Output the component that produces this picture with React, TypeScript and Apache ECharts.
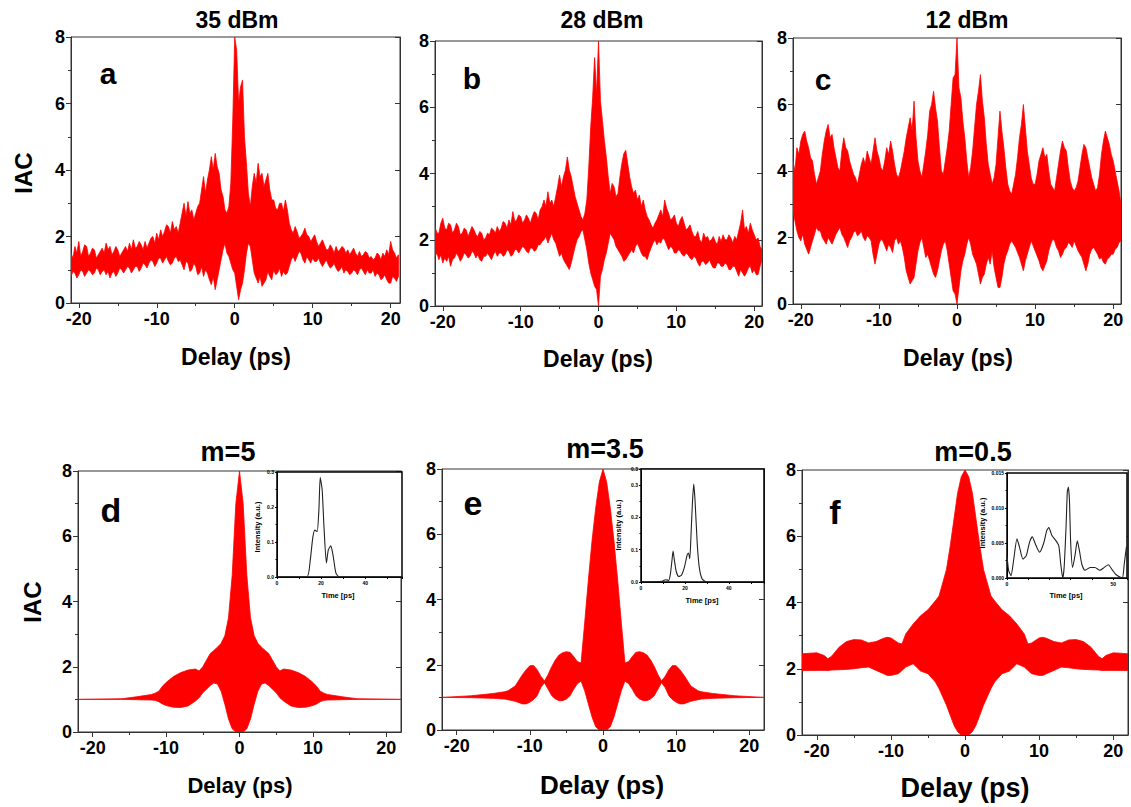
import React, { useEffect, useRef } from "react";
import * as echarts from "echarts";

// ---------- Data: measured IAC traces (envelopes of the fringe-resolved traces) ----------
const delayTop = [
  -21, -20.75, -20.5, -20.25, -20, -19.75, -19.5, -19.25, -19, -18.75,
  -18.5, -18.25, -18, -17.75, -17.5, -17.25, -17, -16.75, -16.5, -16.25,
  -16, -15.75, -15.5, -15.25, -15, -14.75, -14.5, -14.25, -14, -13.75,
  -13.5, -13.25, -13, -12.75, -12.5, -12.25, -12, -11.75, -11.5, -11.25,
  -11, -10.75, -10.5, -10.25, -10, -9.75, -9.5, -9.25, -9, -8.75,
  -8.5, -8.25, -8, -7.75, -7.5, -7.25, -7, -6.75, -6.5, -6.25,
  -6, -5.75, -5.5, -5.25, -5, -4.75, -4.5, -4.25, -4, -3.75,
  -3.5, -3.25, -3, -2.75, -2.5, -2.25, -2, -1.75, -1.5, -1.25,
  -1, -0.75, -0.5, -0.25, 0, 0.25, 0.5, 0.75, 1, 1.25,
  1.5, 1.75, 2, 2.25, 2.5, 2.75, 3, 3.25, 3.5, 3.75,
  4, 4.25, 4.5, 4.75, 5, 5.25, 5.5, 5.75, 6, 6.25,
  6.5, 6.75, 7, 7.25, 7.5, 7.75, 8, 8.25, 8.5, 8.75,
  9, 9.25, 9.5, 9.75, 10, 10.25, 10.5, 10.75, 11, 11.25,
  11.5, 11.75, 12, 12.25, 12.5, 12.75, 13, 13.25, 13.5, 13.75,
  14, 14.25, 14.5, 14.75, 15, 15.25, 15.5, 15.75, 16, 16.25,
  16.5, 16.75, 17, 17.25, 17.5, 17.75, 18, 18.25, 18.5, 18.75,
  19, 19.25, 19.5, 19.75, 20, 20.25, 20.5, 20.75, 21,
];

// (a) 35 dBm
const upperA = [
  1.5, 1.35, 1.7, 1.5, 1.85, 1.4, 1.55, 1.75, 1.7, 1.4,
  1.5, 1.65, 1.6, 1.35, 1.45, 1.55, 1.65, 1.5, 1.8, 1.6,
  1.7, 1.45, 1.55, 1.7, 1.6, 1.4, 1.5, 1.6, 1.7, 1.55,
  1.8, 1.6, 1.9, 1.65, 1.7, 1.85, 1.75, 1.6, 1.85, 1.65,
  1.8, 1.95, 2.0, 1.8, 2.1, 1.9, 2.2, 2.0, 2.15, 2.35,
  2.3, 2.1, 2.45, 2.2, 2.3, 2.1, 2.4, 2.7, 3.0, 2.6,
  3.05, 2.7, 2.8, 2.5, 2.7, 2.9, 3.0, 3.4, 3.8, 3.3,
  3.7, 4.0, 4.4, 4.0, 4.5, 4.1, 3.9, 3.4, 3.2, 2.8,
  2.7, 2.9, 3.6, 5.5, 8.0, 7.6, 6.0, 6.5, 6.7, 5.0,
  4.2, 3.3, 2.9, 3.5, 3.9, 3.6, 4.2, 3.8, 3.9, 3.5,
  3.7, 3.9, 3.4, 3.1, 3.1, 2.85, 2.8, 3.0, 3.0, 2.75,
  3.1, 2.8, 2.4, 2.2, 2.1, 2.3, 2.15, 1.95, 2.0, 2.1,
  2.25, 2.05, 2.0, 1.85, 1.95, 2.05, 1.85, 1.7, 1.8, 1.9,
  1.75, 1.6, 1.6, 1.75, 1.65, 1.5, 1.7, 1.55, 1.6, 1.7,
  1.65, 1.5, 1.6, 1.45, 1.55, 1.65, 1.5, 1.4, 1.55, 1.4,
  1.45, 1.55, 1.5, 1.35, 1.4, 1.3, 1.35, 1.5, 1.45, 1.3,
  1.5, 1.4, 1.6, 1.45, 1.85, 1.6, 1.5, 1.35, 1.45,
];
const lowerA = [
  0.8, 0.95, 0.9, 0.75, 0.85, 1.0, 0.95, 0.8, 0.9, 1.0,
  0.95, 0.85, 0.9, 1.05, 1.0, 0.85, 0.95, 1.0, 0.85, 0.95,
  0.75, 0.9, 0.95, 0.8, 0.9, 1.05, 1.0, 0.9, 1.0, 1.1,
  1.05, 0.9, 1.0, 1.1, 1.1, 0.95, 1.05, 1.2, 1.15, 1.05,
  1.2, 1.3, 1.25, 1.1, 1.2, 1.35, 1.35, 1.2, 1.3, 1.4,
  1.25, 1.15, 1.2, 1.35, 1.4, 1.25, 1.3, 1.15, 1.0, 1.25,
  1.2, 0.95, 1.0, 1.2, 1.1, 0.85, 0.9, 1.1, 0.8, 1.0,
  0.9, 0.7, 0.55, 0.8, 0.4, 0.7, 1.0, 1.3, 1.6, 1.8,
  1.5, 1.4, 1.2, 1.0, 0.9, 0.5, 0.1, 0.4, 0.6, 1.0,
  1.5, 1.8, 1.7, 1.3, 0.9, 0.75, 0.6, 0.8, 0.5, 0.6,
  0.7, 0.95, 0.8, 0.7, 1.0, 0.85, 0.9, 1.05, 0.8, 0.95,
  0.85, 0.9, 1.1, 1.3, 1.4, 1.25, 1.4, 1.55, 1.5, 1.3,
  1.2, 1.4, 1.3, 1.2, 1.35, 1.25, 1.25, 1.35, 1.2, 1.1,
  1.2, 1.3, 1.15, 1.05, 1.1, 1.2, 1.05, 0.95, 1.0, 1.1,
  0.9, 1.0, 0.95, 0.85, 0.9, 1.0, 0.95, 0.85, 1.0, 1.05,
  0.95, 0.85, 1.0, 0.9, 0.9, 1.0, 0.8, 0.9, 0.85, 0.7,
  0.75, 0.85, 0.7, 0.6, 0.6, 0.8, 0.75, 0.65, 0.8,
];

// (b) 28 dBm
const upperB = [
  2.4, 2.2, 2.2, 2.5, 2.65, 2.35, 2.3, 2.5, 2.45, 2.2,
  2.3, 2.5, 2.4, 2.15, 2.2, 2.35, 2.3, 2.1, 2.25, 2.4,
  2.3, 2.15, 2.1, 2.25, 2.2, 2.0, 2.05, 2.2, 2.15, 2.35,
  2.3, 2.2, 2.4, 2.25, 2.35, 2.55, 2.5, 2.35, 2.6, 2.45,
  2.85, 2.55, 2.6, 2.75, 2.7, 2.5, 2.6, 2.75, 2.65, 2.5,
  2.7, 2.85, 2.8, 2.6, 2.9, 3.0, 3.2, 3.0, 3.45, 3.1,
  3.2, 3.0, 3.3, 3.6, 3.95, 3.6, 3.9, 4.1, 4.5, 4.1,
  3.9, 3.6, 3.3, 3.1, 2.9, 2.7, 2.6, 2.8, 3.2, 4.2,
  5.4, 6.3, 7.5, 6.4, 8.0, 6.2, 5.6, 5.0, 4.5, 3.9,
  3.4, 3.7, 3.6, 3.3, 3.4, 3.9, 4.3, 4.6, 4.7, 4.3,
  3.9, 3.6, 3.4, 3.5, 3.2, 3.35, 3.0, 3.2, 2.9, 2.7,
  2.6, 2.45, 2.35, 2.5, 2.6, 2.75, 2.9, 2.7, 3.2, 2.95,
  2.8, 2.6, 2.65, 2.75, 2.5, 2.4, 2.6, 2.7, 2.5, 2.3,
  2.35, 2.45, 2.25, 2.1, 2.1, 2.25, 2.0, 1.9, 2.2, 2.05,
  2.1, 1.95, 2.0, 2.1, 1.95, 1.85, 2.1, 1.95, 2.15, 2.0,
  2.0, 2.15, 2.05, 1.9, 2.1, 2.0, 2.25, 2.5, 2.9, 2.3,
  2.4, 2.2, 2.5, 2.3, 2.15, 2.0, 2.05, 1.8, 1.7,
];
const lowerB = [
  1.5, 1.6, 1.4, 1.55, 1.3, 1.45, 1.35, 1.5, 1.2, 1.4,
  1.45, 1.6, 1.5, 1.35, 1.45, 1.6, 1.55, 1.45, 1.5, 1.65,
  1.6, 1.45, 1.55, 1.4, 1.35, 1.5, 1.5, 1.6, 1.5, 1.4,
  1.55, 1.65, 1.5, 1.6, 1.6, 1.5, 1.55, 1.7, 1.65, 1.5,
  1.55, 1.7, 1.7, 1.6, 1.7, 1.8, 1.75, 1.65, 1.6, 1.75,
  1.75, 1.65, 1.7, 1.85, 1.85, 1.95, 2.0, 2.1, 1.9, 2.05,
  2.2, 2.0, 1.9, 1.7, 1.5, 1.6, 1.4, 1.3, 1.2, 1.1,
  1.3, 1.55, 1.8, 2.0, 2.1, 2.25, 2.3, 2.0, 1.7, 1.3,
  1.0, 0.8, 0.6, 0.5, 0.0, 0.9, 1.1, 1.4, 1.6, 1.9,
  2.2, 2.1, 2.0, 1.8, 1.7, 1.6, 1.5, 1.35, 1.4, 1.5,
  1.6, 1.7, 1.6, 1.8, 1.9, 1.75, 1.6, 1.5, 1.5, 1.4,
  1.6, 1.75, 1.9, 2.0, 1.85, 1.95, 1.9, 2.05, 2.0, 1.85,
  1.7, 1.8, 1.75, 1.6, 1.6, 1.7, 1.65, 1.55, 1.5, 1.6,
  1.55, 1.45, 1.4, 1.5, 1.45, 1.3, 1.2, 1.35, 1.35, 1.25,
  1.3, 1.4, 1.25, 1.15, 1.15, 1.3, 1.3, 1.2, 1.2, 1.3,
  1.25, 1.1, 1.1, 1.2, 1.2, 1.05, 0.9, 1.1, 1.0, 0.9,
  1.0, 1.15, 1.2, 1.0, 1.1, 0.95, 0.95, 1.2, 1.4,
];

// (c) 12 dBm
const upperC = [
  4.3, 4.0, 4.7, 4.5, 4.9, 5.1, 5.2, 4.9, 4.7, 4.4,
  4.3, 3.9, 3.6, 3.8, 4.0, 4.5, 4.9, 5.2, 5.4, 5.0,
  5.1, 4.7, 4.4, 4.1, 4.0, 4.6, 5.0, 4.7, 4.6, 4.3,
  4.1, 3.9, 3.8, 3.6, 3.9, 4.2, 4.4, 4.2, 4.6, 4.4,
  4.2, 4.6, 5.0, 4.6, 4.4, 4.1, 4.0, 4.3, 4.7, 4.5,
  4.9, 4.6, 4.2, 3.9, 3.8, 4.0, 4.3, 4.6, 5.0, 5.3,
  5.6, 5.2, 6.1, 5.0, 4.3, 4.0, 3.8, 4.2, 4.6, 5.1,
  5.8, 6.0, 6.4, 5.9, 5.5, 4.7, 4.0, 3.9, 4.3, 4.7,
  5.2, 6.0, 6.8, 6.9, 8.0, 6.5, 6.2, 5.5, 5.0, 4.3,
  3.8, 4.1, 4.6, 5.3, 6.0, 6.4, 6.9, 6.1, 5.6, 4.8,
  4.2, 3.9, 3.6, 3.8, 4.2, 5.0, 5.8, 5.2, 4.7, 4.1,
  3.6, 3.4, 3.3, 3.6, 3.9, 4.4, 5.0, 5.4, 6.0, 5.3,
  4.6, 4.2, 3.8, 3.6, 3.6, 3.9, 4.3, 4.5, 4.7, 4.4,
  4.5, 4.0, 3.6, 3.5, 3.4, 3.8, 4.2, 4.6, 4.9, 4.7,
  4.6, 4.1, 3.7, 3.5, 3.4, 3.5, 3.7, 4.1, 4.5, 4.8,
  4.7, 4.4, 4.1, 3.8, 3.6, 3.4, 3.5, 3.9, 4.5, 4.9,
  5.2, 5.0, 4.8, 4.5, 4.3, 4.0, 3.7, 3.4, 3.0,
];
const lowerC = [
  2.8, 2.5, 2.2, 2.0, 1.9, 2.1, 1.8, 1.65, 1.5, 1.7,
  1.9, 2.1, 2.3, 2.2, 2.2, 2.0, 1.9, 1.8, 2.0, 1.9,
  1.8, 1.95, 2.1, 2.2, 2.3, 2.1, 2.0, 1.85, 1.7, 1.9,
  2.0, 2.15, 2.2, 2.05, 2.1, 2.2, 2.0, 1.9, 2.05, 2.0,
  1.9, 1.5, 1.2, 1.5, 1.8, 1.95, 1.9, 1.75, 1.6, 1.8,
  1.7, 1.55, 1.9, 2.0, 1.8, 1.9, 1.7, 1.4, 1.0, 0.8,
  0.6, 0.7, 0.8, 1.2, 1.6, 1.85, 2.0, 1.7, 1.4, 1.5,
  1.3, 1.1, 0.9, 0.8, 1.0, 1.3, 1.6, 1.8, 1.9, 1.6,
  1.2, 0.8, 0.4, 0.3, 0.0, 0.5, 1.0, 1.3, 1.5, 1.8,
  2.0, 1.8, 1.5, 1.35, 1.2, 0.9, 0.6, 0.8, 0.9, 1.2,
  1.4, 1.2, 1.6, 1.1, 0.8, 0.5, 0.5, 0.8, 1.2, 1.45,
  1.6, 1.8, 1.9, 1.8, 1.7, 1.55, 1.4, 1.2, 1.0, 1.3,
  1.5, 1.7, 1.9, 1.75, 1.6, 1.45, 1.3, 1.1, 1.0, 1.15,
  1.3, 1.6, 1.8, 1.95, 1.9, 1.7, 1.6, 1.4, 1.5, 1.65,
  1.7, 1.85, 1.8, 1.7, 1.9, 1.75, 1.6, 1.5, 1.4, 1.2,
  1.0, 1.2, 1.5, 1.65, 1.7, 1.6, 1.5, 1.35, 1.4, 1.25,
  1.2, 1.35, 1.4, 1.5, 1.5, 1.65, 1.7, 1.85, 1.9,
];

// (d) m = 5 (simulated)
const delayD = [
  -22, -16, -14, -12, -11.5, -11, -10.5, -10, -9, -8,
  -7, -6, -5.5, -5, -4, -3.5, -3, -2.5, -2, -1.5,
  -1, -0.5, 0, 0.5, 1, 1.5, 2, 2.5, 3, 3.5,
  4, 5, 5.5, 6, 7, 8, 9, 10, 10.5, 11,
  11.5, 12, 14, 16, 22,
];
const upperD = [
  1.0, 1.02, 1.08, 1.15, 1.19, 1.25, 1.4, 1.52, 1.7, 1.82,
  1.9, 1.93, 1.87, 2.0, 2.4, 2.5, 2.6, 2.72, 2.95, 3.5,
  4.8, 7.0, 8.0, 7.0, 4.8, 3.5, 2.95, 2.72, 2.6, 2.5,
  2.4, 2.0, 1.87, 1.93, 1.9, 1.82, 1.7, 1.52, 1.4, 1.25,
  1.19, 1.15, 1.08, 1.02, 1.0,
];
const lowerD = [
  1.0, 1.0, 0.99, 0.98, 0.97, 0.93, 0.86, 0.81, 0.76, 0.75,
  0.8, 0.95, 1.05, 1.2, 1.42, 1.5, 1.47, 1.25, 0.85, 0.4,
  0.1, 0.0, 0.0, 0.0, 0.1, 0.4, 0.85, 1.25, 1.47, 1.5,
  1.42, 1.2, 1.05, 0.95, 0.8, 0.75, 0.76, 0.81, 0.86, 0.93,
  0.97, 0.98, 0.99, 1.0, 1.0,
];

// (e) m = 3.5 (simulated)
const delayE = [
  -22, -18, -15, -13.5, -13, -12, -11, -10.5, -10, -9.5,
  -9, -8.5, -8, -7.5, -7, -6.5, -6, -5.5, -5, -4.5,
  -4, -3.5, -3, -2.5, -2, -1.5, -1, -0.5, 0, 0.5,
  1, 1.5, 2, 2.5, 3, 3.5, 4, 4.5, 5, 5.5,
  6, 6.5, 7, 7.5, 8, 8.5, 9, 9.5, 10, 10.5,
  11, 12, 13, 13.5, 15, 18, 22,
];
const upperE = [
  1.0, 1.05, 1.12, 1.17, 1.2, 1.35, 1.7, 1.85, 1.97, 1.98,
  1.85, 1.65, 1.5, 1.7, 1.95, 2.15, 2.3, 2.37, 2.4, 2.38,
  2.25, 2.1, 2.05, 3.3, 4.6, 5.8, 6.8, 7.6, 8.0, 7.6,
  6.8, 5.8, 4.6, 3.3, 2.05, 2.1, 2.25, 2.38, 2.4, 2.37,
  2.3, 2.15, 1.95, 1.7, 1.5, 1.65, 1.85, 1.98, 1.97, 1.85,
  1.7, 1.35, 1.2, 1.17, 1.12, 1.05, 1.0,
];
const lowerE = [
  1.0, 0.99, 0.97, 0.95, 0.93, 0.88, 0.8, 0.8, 0.85, 0.93,
  1.05, 1.3, 1.45, 1.25, 1.05, 0.95, 0.9, 0.9, 0.95, 1.05,
  1.25, 1.42, 1.5, 1.2, 0.8, 0.4, 0.1, 0.0, 0.0, 0.0,
  0.1, 0.4, 0.8, 1.2, 1.5, 1.42, 1.25, 1.05, 0.95, 0.9,
  0.9, 0.95, 1.05, 1.25, 1.45, 1.3, 1.05, 0.93, 0.85, 0.8,
  0.8, 0.88, 0.93, 0.95, 0.97, 0.99, 1.0,
];

// (f) m = 0.5 (simulated)
const delayF = [
  -22, -21, -20, -19, -18.5, -18, -17, -16, -15, -14,
  -13, -12, -11, -10.5, -10, -9, -8.5, -8, -7, -6,
  -5, -4, -3.5, -3, -2.5, -2, -1.5, -1, -0.5, 0,
  0.5, 1, 1.5, 2, 2.5, 3, 3.5, 4, 5, 6,
  7, 8, 8.5, 9, 10, 10.5, 11, 12, 13, 14,
  15, 16, 17, 18, 18.5, 19, 20, 21, 22,
];
const upperF = [
  2.45, 2.47, 2.48, 2.4, 2.3, 2.38, 2.65, 2.82, 2.88, 2.87,
  2.78, 2.82, 2.92, 2.95, 2.93, 2.78, 2.75, 3.05, 3.35, 3.6,
  3.78, 4.05, 4.2, 4.6, 5.0, 5.7, 6.5, 7.3, 7.8, 8.0,
  7.8, 7.3, 6.5, 5.7, 5.0, 4.6, 4.2, 4.05, 3.78, 3.6,
  3.35, 3.05, 2.75, 2.78, 2.93, 2.95, 2.92, 2.82, 2.78, 2.87,
  2.88, 2.82, 2.65, 2.38, 2.3, 2.4, 2.48, 2.47, 2.45,
];
const lowerF = [
  1.95, 1.95, 1.95, 1.95, 1.95, 1.96, 1.97, 1.98, 2.0, 2.03,
  2.05, 1.95, 1.85, 1.8, 1.8, 1.85, 1.95, 2.05, 2.15, 1.93,
  1.85, 1.6, 1.4, 1.15, 0.9, 0.6, 0.3, 0.1, 0.0, 0.0,
  0.0, 0.1, 0.3, 0.6, 0.9, 1.15, 1.4, 1.6, 1.85, 1.93,
  2.15, 2.05, 1.95, 1.85, 1.8, 1.8, 1.85, 1.95, 2.05, 2.03,
  2.0, 1.98, 1.97, 1.96, 1.95, 1.95, 1.95, 1.95, 1.95,
];

// Insets: retrieved pulse intensity profiles
const timeD = [0, 13.5, 15.1, 16.2, 17.1, 18.2, 19.0, 19.6, 20.5, 21.3, 22.4, 23.3, 24.4, 25.5, 26.7, 28.3, 56.7];
const intensityD = [0, 0, 0.049, 0.111, 0.134, 0.13, 0.191, 0.284, 0.248, 0.144, 0.04, 0.078, 0.089, 0.059, 0.012, 0, 0];

const timeE = [0, 9.6, 11.1, 12.6, 13.4, 14.1, 14.6, 15.2, 16.1, 17.2, 18.4, 19.8, 21.0, 21.6, 22.2, 22.8, 23.4, 24.0, 24.6, 25.6, 26.5, 27.8, 29.8, 56];
const intensityE = [0, 0.002, 0.007, 0.005, 0.026, 0.067, 0.096, 0.067, 0.031, 0.017, 0.021, 0.047, 0.083, 0.09, 0.072, 0.15, 0.243, 0.303, 0.253, 0.119, 0.047, 0.01, 0, 0];

const timeF = [
  0, 0.78, 1.9, 3.1, 4.7, 5.9, 7.5, 9.1, 10.6, 11.9,
  13.3, 15.3, 17.2, 18.75, 19.7, 21.1, 23.1, 24.4, 25.3, 26.25,
  26.9, 27.8, 28.4, 28.9, 29.4, 30.0, 30.9, 32.0, 33.1, 34.1,
  35.2, 36.7, 39.1, 41.4, 43.75, 45.3, 47.7, 49.7, 51.25, 53.4,
  54.4, 55.2, 56.25,
];
const intensityF = [
  0.0032, 0.00105, 0.00033, 0.0025, 0.0056, 0.0044, 0.0027, 0.0032, 0.0051, 0.0059,
  0.0049, 0.0037, 0.0049, 0.0068, 0.0072, 0.0061, 0.0053, 0.0046, 0.002, 0,
  0.0015, 0.0073, 0.0123, 0.013, 0.0111, 0.0049, 0.0015, 0.0032, 0.0053, 0.0039,
  0.002, 0.0011, 0.0015, 0.0015, 0.0011, 0.0014, 0.0019, 0.0011, 0.0005, 0.0001,
  0, 0.002, 0.0045,
];

// Tick labels
const delayMajorTicks = [-20, -10, 0, 10, 20];
const delayMinorTicks = [-15, -5, 5, 15];
const panelTitles = ["35 dBm", "28 dBm", "12 dBm", "m=5", "m=3.5", "m=0.5"];
const panelLetters = ["a", "b", "c", "d", "e", "f"];

// ---------- Layout ----------
const FONT = '"Liberation Sans", Arial, Helvetica, sans-serif';
const AX = "#333";

type Panel = {
  grid: { left: number; top: number; width: number; height: number };
  xMin: number;
  xMax: number;
  delay: number[];
  up: number[];
  lo: number[];
};

const panels: Panel[] = [
  { grid: { left: 71, top: 37, width: 329, height: 266 }, xMin: -21, xMax: 21.2, delay: delayTop, up: upperA, lo: lowerA },
  { grid: { left: 435, top: 41, width: 327, height: 265 }, xMin: -21, xMax: 21, delay: delayTop, up: upperB, lo: lowerB },
  { grid: { left: 793, top: 38, width: 328, height: 266 }, xMin: -21, xMax: 21, delay: delayTop, up: upperC, lo: lowerC },
  { grid: { left: 78, top: 471, width: 323, height: 261 }, xMin: -22, xMax: 22, delay: delayD, up: upperD, lo: lowerD },
  { grid: { left: 442, top: 469, width: 322, height: 261 }, xMin: -22, xMax: 22, delay: delayE, up: upperE, lo: lowerE },
  { grid: { left: 802, top: 470, width: 326, height: 265 }, xMin: -22, xMax: 22, delay: delayF, up: upperF, lo: lowerF },
];

type Inset = {
  grid: { left: number; top: number; width: number; height: number };
  xMax: number;
  yMax: number;
  yInterval: number;
  yDigits: number;
  xLabels: number[];
  time: number[];
  inten: number[];
};

const insets: Inset[] = [
  { grid: { left: 277, top: 472, width: 125, height: 105 }, xMax: 56.7, yMax: 0.3, yInterval: 0.1, yDigits: 1, xLabels: [0, 20, 40], time: timeD, inten: intensityD },
  { grid: { left: 641, top: 469, width: 123, height: 113 }, xMax: 56, yMax: 0.35, yInterval: 0.1, yDigits: 1, xLabels: [0, 20, 40], time: timeE, inten: intensityE },
  { grid: { left: 1007, top: 473, width: 120, height: 105 }, xMax: 56.5, yMax: 0.015, yInterval: 0.005, yDigits: 3, xLabels: [0, 50], time: timeF, inten: intensityF },
];

const titlePos = [
  [237, 20, 23], [602, 20, 23], [967, 20, 23],
  [228, 452, 27], [605, 449, 27], [973, 452, 27],
];
const letterPos = [
  [108, 73, 30], [472, 78, 30], [823, 79, 30],
  [111, 510, 34], [473, 503, 34], [835, 512, 34],
];
const delayLabelPos = [
  [236, 357, 23], [598, 359, 23], [958, 358, 23],
  [240, 785, 22], [602, 785, 26], [965, 788, 27],
];
const iacPos = [[23, 173, 24], [32, 602, 24]];
const insetYLabelPos = [[257, 527], [618, 525], [982, 523]];
const insetXLabelPos = [[338, 595], [702, 600], [1066, 595]];

function txt(x: number, y: number, text: string, size: number, rotation = 0) {
  return {
    type: "text",
    x,
    y,
    rotation,
    z: 100,
    style: {
      text,
      fill: "#000",
      font: `bold ${size}px ${FONT}`,
      align: "center",
      verticalAlign: "middle",
      textAlign: "center",
      textVerticalAlign: "middle",
    },
  };
}

function buildOption() {
  const grid: any[] = [];
  const xAxis: any[] = [];
  const yAxis: any[] = [];
  const series: any[] = [];

  const tickLabel = { fontSize: 18, fontWeight: "bold", fontFamily: FONT, color: "#000" };

  panels.forEach((p, i) => {
    grid.push({ ...p.grid, show: true, borderColor: AX, borderWidth: 1, backgroundColor: "transparent" });
    xAxis.push({
      type: "value", gridIndex: i, min: p.xMin, max: p.xMax, position: "bottom",
      axisLine: { show: true, onZero: false, lineStyle: { color: AX, width: 1 } },
      axisTick: { show: true, inside: false, length: 5, customValues: delayMajorTicks, lineStyle: { color: AX } },
      axisLabel: { show: true, customValues: delayMajorTicks, margin: 7, ...tickLabel },
      splitLine: { show: false },
    });
    xAxis.push({
      type: "value", gridIndex: i, min: p.xMin, max: p.xMax, position: "bottom",
      axisLine: { show: false, onZero: false },
      axisTick: { show: true, inside: false, length: 3, customValues: delayMinorTicks, lineStyle: { color: AX } },
      axisLabel: { show: false },
      splitLine: { show: false },
    });
    yAxis.push({
      type: "value", gridIndex: i, min: 0, max: 8, interval: 2, position: "left",
      axisLine: { show: true, onZero: false, lineStyle: { color: AX, width: 1 } },
      axisTick: { show: true, inside: false, length: 5, lineStyle: { color: AX } },
      minorTick: { show: true, splitNumber: 2, length: 3, lineStyle: { color: AX } },
      axisLabel: { show: true, margin: 6, ...tickLabel },
      splitLine: { show: false },
      minorSplitLine: { show: false },
    });
    yAxis.push({
      type: "value", gridIndex: i, min: 0, max: 8, interval: 2, position: "right",
      axisLine: { show: true, onZero: false, lineStyle: { color: AX, width: 1 } },
      axisTick: { show: true, inside: true, length: 5, lineStyle: { color: AX } },
      axisLabel: { show: false },
      splitLine: { show: false },
    });
    series.push({
      type: "custom",
      xAxisIndex: 2 * i,
      yAxisIndex: 2 * i,
      data: [[0, 0]],
      clip: true,
      silent: true,
      renderItem: (_params: any, api: any) => {
        const top = p.delay.map((d, k) => api.coord([d, p.up[k]]));
        const bottom = p.delay.map((d, k) => api.coord([d, p.lo[k]])).reverse();
        return {
          type: "polygon",
          shape: { points: top.concat(bottom) },
          style: { fill: "#ff0000", stroke: "#ff0000", lineWidth: 0.8 },
        };
      },
    });
  });

  const base = panels.length;
  const insetLabel = { fontSize: 5, fontWeight: "bold", fontFamily: FONT, color: "#000" };
  insets.forEach((ins, j) => {
    const gi = base + j;
    grid.push({ ...ins.grid, show: true, borderColor: "#000", borderWidth: 1.5, backgroundColor: "#fff", z: 5 });
    xAxis.push({
      type: "value", gridIndex: gi, min: 0, max: ins.xMax, interval: 10, position: "bottom", z: 6,
      axisLine: { show: true, onZero: false, lineStyle: { color: "#000", width: 1 } },
      axisTick: { show: true, inside: false, length: 2, lineStyle: { color: "#000" } },
      axisLabel: { show: true, customValues: ins.xLabels, margin: 3, ...insetLabel },
      splitLine: { show: false },
    });
    yAxis.push({
      type: "value", gridIndex: gi, min: 0, max: ins.yMax, interval: ins.yInterval, position: "left", z: 6,
      axisLine: { show: true, onZero: false, lineStyle: { color: "#000", width: 1 } },
      axisTick: { show: true, inside: false, length: 2, lineStyle: { color: "#000" } },
      minorTick: { show: true, splitNumber: 2, length: 1.5, lineStyle: { color: "#000" } },
      axisLabel: { show: true, margin: 3, formatter: (v: number) => v.toFixed(ins.yDigits), ...insetLabel },
      splitLine: { show: false },
      minorSplitLine: { show: false },
    });
    series.push({
      type: "line",
      xAxisIndex: 2 * base + j,
      yAxisIndex: 2 * base + j,
      data: ins.time.map((t, k) => [t, ins.inten[k]]),
      showSymbol: false,
      symbol: "none",
      smooth: 0.2,
      z: 10,
      lineStyle: { color: "#222", width: 1.1 },
      silent: true,
    });
  });

  const graphic: any[] = [];
  panelTitles.forEach((t, i) => graphic.push(txt(titlePos[i][0], titlePos[i][1], t, titlePos[i][2])));
  panelLetters.forEach((t, i) => graphic.push(txt(letterPos[i][0], letterPos[i][1], t, letterPos[i][2])));
  delayLabelPos.forEach((p) => graphic.push(txt(p[0], p[1], "Delay (ps)", p[2])));
  iacPos.forEach((p) => graphic.push(txt(p[0], p[1], "IAC", p[2], Math.PI / 2)));
  insetYLabelPos.forEach((p) => graphic.push(txt(p[0], p[1], "Intensity (a.u.)", 7.5, Math.PI / 2)));
  insetXLabelPos.forEach((p) => graphic.push(txt(p[0], p[1], "Time [ps]", 7.5)));

  return {
    animation: false,
    backgroundColor: "#ffffff",
    grid,
    xAxis,
    yAxis,
    series,
    graphic: { elements: graphic },
  };
}

export default function App() {
  const ref = useRef<HTMLDivElement>(null);
  useEffect(() => {
    if (!ref.current) return;
    const chart = echarts.init(ref.current, undefined, { renderer: "svg" });
    chart.setOption(buildOption() as any);
    return () => chart.dispose();
  }, []);
  return (
    <div
      ref={ref}
      style={{ position: "absolute", left: 0, top: 0, width: 1131, height: 807, background: "#fff" }}
    />
  );
}
